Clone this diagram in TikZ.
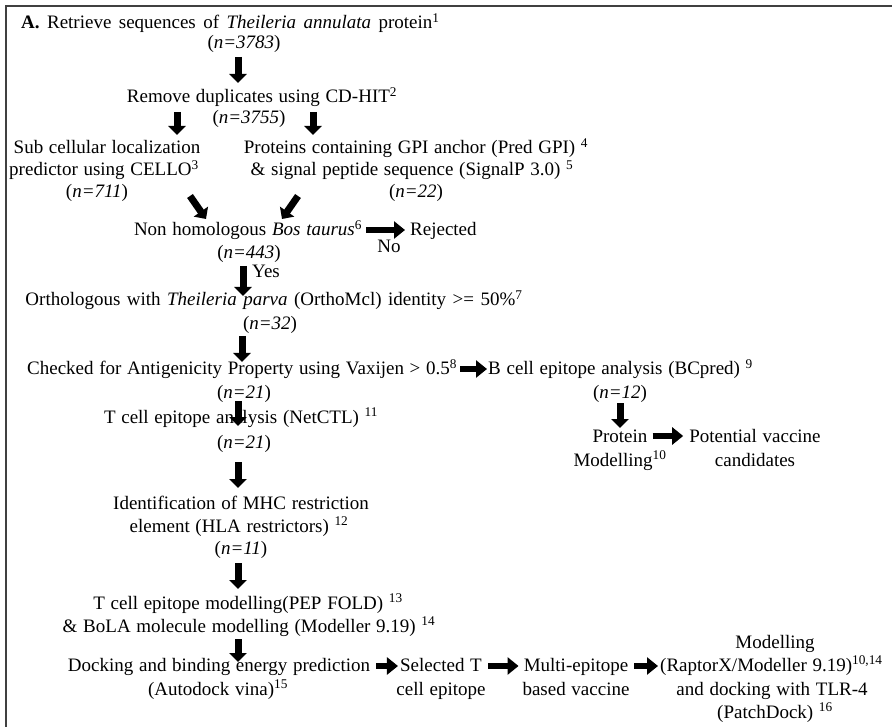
\documentclass[tikz,border=0pt]{standalone}
\usepackage{fontspec}
\setmainfont{Liberation Serif}
\usetikzlibrary{arrows.meta}
\newcommand\myfont{\fontsize{19}{22}\selectfont\spaceskip=0.3em plus 0.1em minus 0.05em\relax}
\begin{document}
\begin{tikzpicture}[x=1pt,y=-1pt,
  txt/.style={inner sep=0pt, anchor=base, font=\myfont},
  txtw/.style={txt, anchor=base west},
  varrow/.style={line width=7pt, -{Triangle[length=9pt,width=17pt]}},
  harrow/.style={line width=6.5pt, -{Triangle[length=11pt,width=17pt]}}]
\useasboundingbox (0,0) rectangle (892,727);
\fill[white] (0,0) rectangle (892,727);
\draw[line width=1.6pt, black!75] (892,6) -- (6,6) -- (6,727);

% nodes
\node[txtw] (t1) at (21,29) {\spaceskip=0.39em\relax\textbf{A.} Retrieve sequences of \textit{Theileria annulata} protein\textsuperscript{1}};
\node[txt] (n1) at (244,49) {(\textit{n=3783})};
\node[txt] (rd) at (262,103) {Remove duplicates using CD-HIT\textsuperscript{2}};
\node[txt] (n2) at (249,124) {(\textit{n=3755})};
\node[txt] (sc1) at (107,154) {Sub cellular localization};
\node[txt] (sc2) at (104,176) {predictor using CELLO\textsuperscript{3}};
\node[txt] (n3) at (97,198) {(\textit{n=711})};
\node[txt] (gp1) at (416,154) {Proteins containing GPI anchor (Pred GPI) \textsuperscript{4}};
\node[txt] (gp2) at (412,176) {\& signal peptide sequence (SignalP 3.0) \textsuperscript{5}};
\node[txt] (n4) at (416,198) {(\textit{n=22})};
\node[txt] (nh) at (248,236) {Non homologous \textit{Bos taurus}\textsuperscript{6}};
\node[txtw] (rej) at (410,236) {Rejected};
\node[txt] (no) at (389,253) {No};
\node[txt] (n5) at (249,259) {(\textit{n=443})};
\node[txtw] (yes) at (252,278) {Yes};
\node[txt] (or) at (274,306) {\spaceskip=0.34em\relax Orthologous with \textit{Theileria parva} (OrthoMcl) identity >= 50\%\textsuperscript{7}};
\node[txt] (n6) at (270,330) {(\textit{n=32})};
\node[txtw] (ch) at (27,375) {Checked for Antigenicity Property using Vaxijen > 0.5\textsuperscript{8}};
\node[txtw] (bc) at (488,375) {B cell epitope analysis (BCpred) \textsuperscript{9}};
\node[txt] (n7) at (244,399) {(\textit{n=21})};
\node[txt] (tc) at (241,423) {T cell epitope analysis (NetCTL) \textsuperscript{11}};
\node[txt] (n8) at (244,448) {(\textit{n=21})};
\node[txt] (id1) at (241,509) {Identification of MHC restriction};
\node[txt] (id2) at (239,532) {element (HLA restrictors) \textsuperscript{12}};
\node[txt] (n9) at (241,554) {(\textit{n=11})};
\node[txt] (tm1) at (248,609) {T cell epitope modelling(PEP FOLD) \textsuperscript{13}};
\node[txt] (tm2) at (249,632) {\& BoLA molecule modelling (Modeller 9.19) \textsuperscript{14}};
\node[txt] (dk1) at (219,671) {Docking and binding energy prediction};
\node[txt] (dk2) at (218,695) {(Autodock vina)\textsuperscript{15}};
\node[txt] (st1) at (441,671) {Selected T};
\node[txt] (st2) at (441,695) {cell epitope};
\node[txt] (me1) at (576,671) {Multi-epitope};
\node[txt] (me2) at (576,695) {based vaccine};
\node[txt] (mo1) at (775,648) {Modelling};
\node[txtw] (mo2) at (660,671) {(RaptorX/Modeller 9.19)\textsuperscript{10,14}};
\node[txt] (mo3) at (772,695) {and docking with TLR-4};
\node[txt] (mo4) at (775,718) {(PatchDock) \textsuperscript{16}};
\node[txt] (n10) at (620,399) {(\textit{n=12})};
\node[txt] (pm1) at (620,442) {Protein};
\node[txt] (pm2) at (620,466) {Modelling\textsuperscript{10}};
\node[txt] (pv1) at (755,442) {Potential vaccine};
\node[txt] (pv2) at (755,466) {candidates};

% arrows
\draw[varrow] ([xshift=-6pt,yshift=-8pt]n1.base) -- ([xshift=-24pt,yshift=20pt]rd.base);
\draw[varrow] ([xshift=-85pt,yshift=-9pt]rd.base) -- ([xshift=70pt,yshift=19pt]sc1.base);
\draw[varrow] ([xshift=51pt,yshift=-9pt]rd.base) -- ([xshift=-103pt,yshift=19pt]gp1.base);
\draw[varrow] ([xshift=93pt,yshift=2pt]n3.base) -- ([xshift=-42pt,yshift=17pt]nh.base);
\draw[varrow] ([xshift=-118pt,yshift=2pt]n4.base) -- ([xshift=34pt,yshift=17pt]nh.base);
\draw[harrow] ([xshift=4pt,yshift=6pt]nh.base east) -- ([xshift=-5pt,yshift=6pt]rej.base west);
\draw[varrow] ([xshift=-6pt,yshift=-7pt]n5.base) -- ([xshift=-31pt,yshift=10pt]or.base);
\draw[varrow] ([xshift=-28pt,yshift=-6pt]n6.base) -- ([xshift=215pt,yshift=13pt]ch.base west);
\draw[harrow] ([xshift=3pt,yshift=6pt]ch.base east) -- ([xshift=-1pt,yshift=6pt]bc.base west);
\draw[varrow] ([xshift=-6pt,yshift=-2pt]n7.base) -- ([xshift=-3pt,yshift=-3pt]tc.base);
\draw[varrow] ([xshift=-6pt,yshift=-14pt]n8.base) -- ([xshift=-3pt,yshift=21pt]id1.base);
\draw[varrow] ([xshift=-3pt,yshift=-9pt]n9.base) -- ([xshift=-10pt,yshift=20pt]tm1.base);
\draw[varrow] ([xshift=-11pt,yshift=-7pt]tm2.base) -- ([xshift=19pt,yshift=9pt]dk1.base);
\draw[varrow] ([yshift=-4pt]n10.base) -- ([yshift=14pt]pm1.base);
\draw[harrow] ([xshift=5pt,yshift=6pt]pm1.base east) -- ([xshift=-6pt,yshift=6pt]pv1.base west);
\draw[harrow] ([xshift=6pt,yshift=5pt]dk1.base east) -- ([xshift=-2pt,yshift=5pt]st1.base west);
\draw[harrow] ([xshift=6pt,yshift=5pt]st1.base east) -- ([xshift=-5pt,yshift=5pt]me1.base west);
\draw[harrow] ([xshift=6pt,yshift=5pt]me1.base east) -- ([xshift=-2pt,yshift=5pt]mo2.base west);
\end{tikzpicture}
\end{document}
